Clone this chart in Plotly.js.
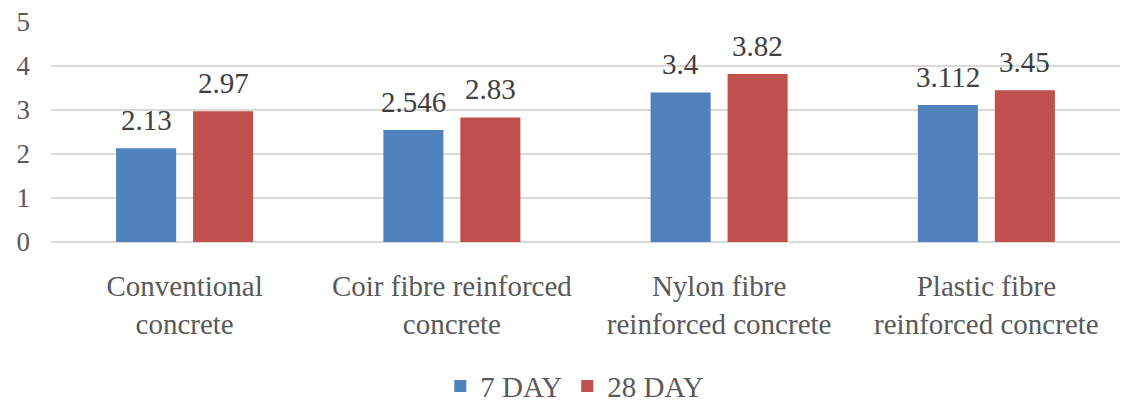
<!DOCTYPE html>
<html>
<head>
<meta charset="utf-8">
<script src="https://cdn.plot.ly/plotly-3.0.1.min.js"></script>
<style>html,body{margin:0;padding:0;background:#fff;}#chart{width:1126px;height:403px;}</style>
</head>
<body>
<div id="chart"></div>
<script>
const categories = ["Conventional<br>concrete", "Coir fibre reinforced<br>concrete", "Nylon fibre<br>reinforced concrete", "Plastic fibre<br>reinforced concrete"];
const day7 = [2.13, 2.546, 3.4, 3.112];
const day28 = [2.97, 2.83, 3.82, 3.45];
const day7Labels = ["2.13", "2.546", "3.4", "3.112"];
const day28Labels = ["2.97", "2.83", "3.82", "3.45"];
const yTicks = [0, 1, 2, 3, 4, 5];

const font = "'Liberation Serif', 'Times New Roman', Times, serif";

const traces = [
  {type: "bar", name: "7 DAY", x: categories, y: day7,
   marker: {color: "#4F81BD"}, hoverinfo: "none"},
  {type: "bar", name: "28 DAY", x: categories, y: day28,
   marker: {color: "#C0504D"}, hoverinfo: "none"}
];

const annotations = [];
categories.forEach((c, i) => {
  annotations.push({x: c, y: day7[i], text: day7Labels[i], showarrow: false, xshift: -38.5, yshift: 10,
    yanchor: "bottom", font: {family: font, size: 29, color: "#404040"}});
  annotations.push({x: c, y: day28[i], text: day28Labels[i], showarrow: false, xshift: 38.5, yshift: 10,
    yanchor: "bottom", font: {family: font, size: 29, color: "#404040"}});
});

const layout = {
  width: 1126, height: 403,
  margin: {l: 51, r: 6, t: 22, b: 161, autoexpand: false},
  paper_bgcolor: "#fff", plot_bgcolor: "#fff",
  font: {family: font, color: "#595959", size: 29},
  barmode: "group", bargap: 0.424, bargroupgap: 0.22,
  showlegend: true,
  annotations: annotations,
  legend: {orientation: "h", x: 0.49, xanchor: "center", y: -0.655, yanchor: "middle",
           font: {family: font, size: 29, color: "#595959"}, traceorder: "normal"},
  xaxis: {showgrid: false, zeroline: false, showline: false, ticks: "",
          tickfont: {family: font, size: 29, color: "#595959"}, ticklabelstandoff: 24,
          fixedrange: true, automargin: false},
  yaxis: {range: [0, 5], tickvals: yTicks, showgrid: true, gridcolor: "#D9D9D9", gridwidth: 1.5,
          zeroline: true, zerolinecolor: "#D9D9D9", zerolinewidth: 1.5, showline: false, ticks: "",
          tickfont: {family: font, size: 27, color: "#595959"}, ticklabelstandoff: 20,
          fixedrange: true, automargin: false}
};

Plotly.newPlot("chart", traces, layout, {displayModeBar: false, staticPlot: true});
</script>
</body>
</html>
